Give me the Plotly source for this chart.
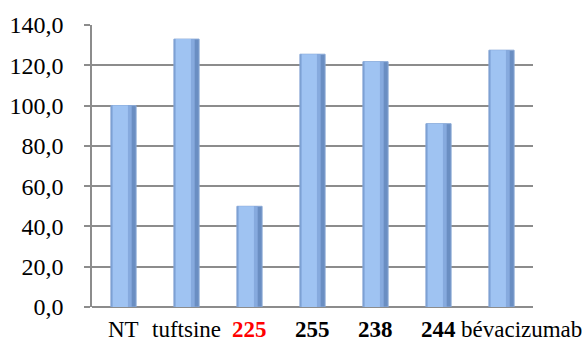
import plotly.graph_objects as go

categories = ["NT", "tuftsine", "225", "255", "238", "244", "bévacizumab"]
tick_labels = ["NT", "tuftsine", "<b><span style='color:#ff0000'>225</span></b>",
               "<b>255</b>", "<b>238</b>", "<b>244</b>", "bévacizumab"]
values = [100.0, 133.0, 50.0, 125.5, 121.8, 91.0, 127.5]

SERIF = "Liberation Serif"

fig = go.Figure()
# darker base (shaded right edge)
fig.add_trace(go.Bar(x=categories, y=values, width=0.40,
                     marker=dict(color="#6a8ec2", line=dict(color="#8aa9d6", width=1)),
                     hoverinfo="skip"))
# mid tone
fig.add_trace(go.Bar(x=categories, y=values, width=0.32, offset=-0.19,
                     marker=dict(color="#86aade", line=dict(width=0)),
                     hoverinfo="skip"))
# lighter body
fig.add_trace(go.Bar(x=categories, y=values, width=0.24, offset=-0.17,
                     marker=dict(color="#9fc3f2", line=dict(width=0)),
                     hoverinfo="skip"))

# category labels as annotations (last one is pushed right as in the original)
xshifts = [0, 0, 0, 0, 0, 0, 20]
for i, (lab, xs) in enumerate(zip(tick_labels, xshifts)):
    fig.add_annotation(x=i, xref="x", y=0, yref="paper", text=lab,
                       showarrow=False, yanchor="middle", xanchor="center",
                       yshift=-22, xshift=xs,
                       font=dict(family=SERIF, size=23, color="black"))

fig.update_layout(
    width=588, height=343,
    margin=dict(l=92, r=55, t=25, b=36),
    paper_bgcolor="white", plot_bgcolor="white",
    showlegend=False, barmode="overlay",
    separators=", ",
    font=dict(family=SERIF, color="black"),
)
fig.update_xaxes(type="category", categoryorder="array", categoryarray=categories,
                 showticklabels=False, showgrid=False, showline=False,
                 ticks="", range=[-0.5, 6.5], automargin=False)
fig.update_yaxes(range=[0, 140], dtick=20, tickformat=".1f",
                 tickfont=dict(size=24, family=SERIF),
                 showgrid=True, gridcolor="#8c8c8c",
                 gridwidth=1.5, showline=True, linecolor="#8c8c8c", linewidth=1.5,
                 ticks="outside", ticklen=6, tickcolor="#8c8c8c", tickwidth=1.5,
                 ticklabelstandoff=16, automargin=False,
                 zeroline=True, zerolinecolor="#8c8c8c", zerolinewidth=1.5)

fig.write_html("out.html", config={"displayModeBar": False},
               post_script="document.body.style.margin='0';document.body.style.overflow='hidden';")
